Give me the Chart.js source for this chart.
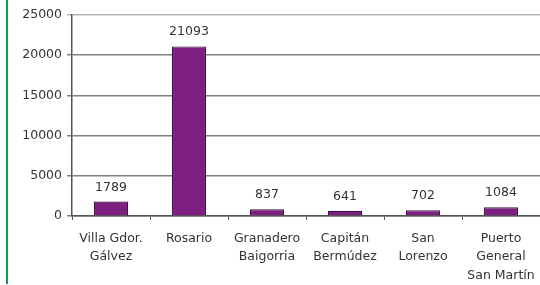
<!DOCTYPE html>
<html><head><meta charset="utf-8">
<script src="https://cdn.jsdelivr.net/npm/chart.js@4/dist/chart.umd.min.js"></script>
<style>
html,body{margin:0;padding:0;background:#fff;}
#wrap{position:relative;width:540px;height:285px;overflow:hidden;}
#green{position:absolute;left:6px;top:0;width:2px;height:284px;background:#0c9a4f;}
canvas{position:absolute;left:0;top:0;}
</style></head>
<body>
<div id="wrap"><div id="green"></div><canvas id="c" width="540" height="285"></canvas></div>
<script>
const categories = [["Villa Gdor.","Gálvez"],"Rosario",["Granadero","Baigorria"],["Capitán","Bermúdez"],["San","Lorenzo"],["Puerto","General","San Martín"]];
const values = [1789, 21093, 837, 641, 702, 1084];
const yTicks = [0, 5000, 10000, 15000, 20000, 25000];

const FONT = {family: "'DejaVu Sans', sans-serif", size: 12.5};

const valueLabels = {
  id: 'valueLabels',
  afterDatasetsDraw(chart) {
    const ctx = chart.ctx;
    const meta = chart.getDatasetMeta(0);
    ctx.save();
    ctx.font = "12.5px 'DejaVu Sans', sans-serif";
    ctx.fillStyle = '#333';
    ctx.textAlign = 'center';
    ctx.textBaseline = 'bottom';
    meta.data.forEach((bar, i) => {
      ctx.fillText(String(values[i]), bar.x, bar.y - 8);
    });
    ctx.restore();
  }
};

new Chart(document.getElementById('c'), {
  type: 'bar',
  data: {
    labels: categories,
    datasets: [{
      data: values,
      backgroundColor: '#7d1f80',
      borderColor: '#3c1040',
      borderWidth: 1.2,
      barPercentage: 0.44,
      categoryPercentage: 1
    }]
  },
  options: {
    responsive: false,
    animation: false,
    devicePixelRatio: 1,
    layout: {padding: {top: 15, right: 0, left: 0, bottom: 0}},
    plugins: {legend: {display: false}, tooltip: {enabled: false}},
    scales: {
      y: {
        min: 0, max: 25000,
        afterBuildTicks(scale) { scale.ticks = yTicks.map(v => ({value: v})); },
        afterFit(scale) { scale.width = 72; scale.paddingTop = 0; scale.paddingBottom = 0; },
        grid: {
          color: (c) => c.tick && c.tick.value === 25000 ? '#b5b5b5' : '#808080',
          lineWidth: 1.5, tickLength: 5, drawTicks: true
        },
        border: {display: true, color: '#555', width: 1.5},
        ticks: {font: FONT, color: '#333', padding: 5, callback: (v) => String(v)}
      },
      x: {
        afterFit(scale) { scale.height = 69; scale.paddingLeft = 0; scale.paddingRight = 0; },
        grid: {offset: true, drawOnChartArea: false, tickLength: 4, color: '#555'},
        border: {display: true, color: '#555', width: 1.5},
        ticks: {font: {family: FONT.family, size: 12.5, lineHeight: 1.5}, color: '#333', maxRotation: 0, autoSkip: false, padding: 9}
      }
    }
  },
  plugins: [valueLabels]
});
</script>
</body></html>
